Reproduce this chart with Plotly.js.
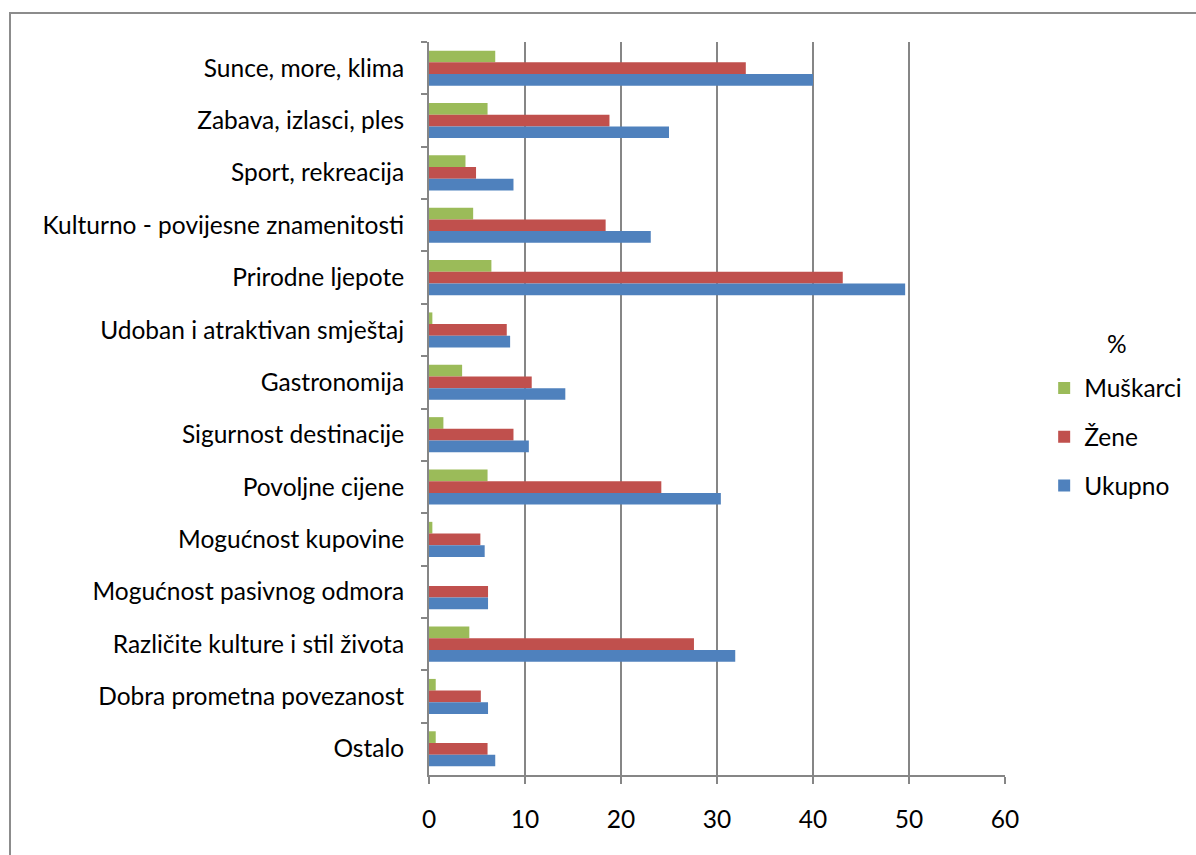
<!DOCTYPE html>
<html>
<head>
<meta charset="utf-8">
<script src="https://cdn.plot.ly/plotly-3.0.1.min.js"></script>
<style>
  html, body { margin: 0; padding: 0; background: #ffffff; width: 1196px; height: 855px; overflow: hidden; }
  #frame { position: absolute; left: 9px; top: 12px; width: 1400px; height: 1000px;
           border-left: 2px solid #8c8c8c; border-top: 2px solid #8c8c8c; box-sizing: border-box; }
  #chart { position: absolute; left: 0; top: 0; width: 1196px; height: 855px; }
</style>
</head>
<body>
<div id="frame"></div>
<div id="chart"></div>
<script>
const categories = [
  "Sunce, more, klima",
  "Zabava, izlasci, ples",
  "Sport, rekreacija",
  "Kulturno - povijesne znamenitosti",
  "Prirodne ljepote",
  "Udoban i atraktivan smještaj",
  "Gastronomija",
  "Sigurnost destinacije",
  "Povoljne cijene",
  "Mogućnost kupovine",
  "Mogućnost pasivnog odmora",
  "Različite kulture i stil života",
  "Dobra prometna povezanost",
  "Ostalo"
];
const muskarci = [6.9, 6.1, 3.8, 4.6, 6.5, 0.35, 3.45, 1.5, 6.1, 0.35, 0, 4.2, 0.7, 0.7];
const zene     = [33.0, 18.8, 4.9, 18.4, 43.1, 8.1, 10.7, 8.8, 24.2, 5.35, 6.15, 27.6, 5.4, 6.1];
const ukupno   = [40.0, 25.0, 8.8, 23.1, 49.6, 8.45, 14.2, 10.4, 30.4, 5.8, 6.15, 31.9, 6.15, 6.9];
const seriesNames = ["Muškarci", "Žene", "Ukupno"];
const legendTitle = "%";
const xTicks = [0, 10, 20, 30, 40, 50, 60];

const colors = ["#9BBB59", "#C0504D", "#4F81BD"];
const values = [muskarci, zene, ukupno];
const FONT = "Lato, 'Open Sans', sans-serif";
const FS = 24.5;
const GRID = "#868686";

const traces = values.map((v, i) => ({
  type: "bar",
  orientation: "h",
  name: seriesNames[i],
  legendgroup: "g" + i,
  y: categories,
  x: v,
  marker: { color: colors[i], line: { width: 0 } },
  hoverinfo: "x+y+name"
}));

const layout = {
  width: 1196,
  height: 855,
  margin: { l: 429, r: 191, t: 42, b: 80, autoexpand: false },
  paper_bgcolor: "rgba(0,0,0,0)",
  plot_bgcolor: "rgba(0,0,0,0)",
  barmode: "group",
  bargap: 0.33,
  bargroupgap: 0,
  font: { family: FONT, size: FS, color: "#000000" },
  xaxis: {
    range: [0, 60],
    tickvals: xTicks,
    ticktext: xTicks.map(String),
    showgrid: true,
    gridcolor: GRID,
    gridwidth: 2,
    showline: true,
    linecolor: GRID,
    linewidth: 2,
    ticks: "outside",
    ticklen: 7,
    tickwidth: 2,
    tickcolor: GRID,
    ticklabelstandoff: 15,
    zeroline: false,
    tickfont: { family: FONT, size: FS, color: "#000000" },
    fixedrange: true
  },
  yaxis: {
    type: "category",
    categoryorder: "array",
    categoryarray: categories,
    autorange: "reversed",
    showgrid: false,
    showline: true,
    linecolor: GRID,
    linewidth: 2,
    ticks: "outside",
    tickson: "boundaries",
    ticklen: 6,
    tickwidth: 2,
    tickcolor: GRID,
    ticklabelstandoff: 18,
    tickfont: { family: FONT, size: FS, color: "#000000" },
    fixedrange: true
  },
  legend: {
    x: 1.068,
    xanchor: "left",
    y: 0.5587,
    yanchor: "top",
    traceorder: "grouped",
    tracegroupgap: 14,
    font: { family: FONT, size: FS, color: "#000000" },
    bgcolor: "rgba(0,0,0,0)",
    itemwidth: 30
  },
  annotations: [{
    text: legendTitle,
    xref: "paper", yref: "paper",
    x: 1.195, y: 0.588,
    xanchor: "center", yanchor: "middle",
    showarrow: false,
    font: { family: FONT, size: FS, color: "#000000" }
  }],
  showlegend: true
};

Plotly.newPlot("chart", traces, layout, { displayModeBar: false, staticPlot: false });
</script>
</body>
</html>
